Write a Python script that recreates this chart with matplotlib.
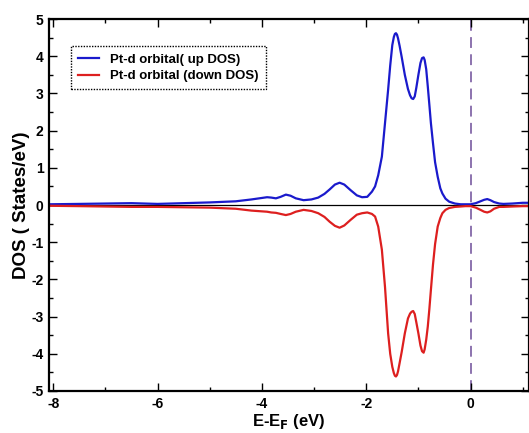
import matplotlib
matplotlib.use("Agg")
import matplotlib.pyplot as plt
from matplotlib.ticker import MultipleLocator

plt.rcParams['font.family'] = ['Liberation Sans', 'DejaVu Sans']
plt.rcParams['axes.unicode_minus'] = False

# Energy grid (eV, relative to the Fermi level) and Pt-d projected DOS
energy = [-8.08, -7.5, -7.0, -6.5, -6.0, -5.5, -5.0, -4.5, -4.2, -4.0, -3.9, -3.82,
          -3.73, -3.64, -3.54, -3.45, -3.35, -3.2, -3.05, -2.92, -2.8, -2.7, -2.6,
          -2.51, -2.42, -2.3, -2.18, -2.08, -1.98, -1.89, -1.83, -1.77, -1.7, -1.64,
          -1.58, -1.54, -1.5, -1.47, -1.45, -1.43, -1.41, -1.39, -1.36, -1.32, -1.26,
          -1.2, -1.16, -1.13, -1.10, -1.07, -1.04, -1.0, -0.96, -0.93, -0.9, -0.88,
          -0.85, -0.82, -0.79, -0.76, -0.72, -0.68, -0.63, -0.58, -0.54, -0.48,
          -0.41, -0.3, -0.19, -0.1, 0.0, 0.1, 0.19, 0.26, 0.32, 0.38, 0.45, 0.55,
          0.63, 0.8, 1.0, 1.12]

dos_up = [0.02, 0.03, 0.04, 0.05, 0.03, 0.05, 0.07, 0.1, 0.15, 0.19, 0.21, 0.2,
          0.18, 0.22, 0.28, 0.25, 0.18, 0.13, 0.15, 0.2, 0.3, 0.42, 0.55,
          0.6, 0.55, 0.4, 0.26, 0.21, 0.22, 0.36, 0.5, 0.8, 1.3, 2.2,
          3.1, 3.75, 4.3, 4.52, 4.6, 4.62, 4.58, 4.48, 4.28, 3.98, 3.5,
          3.12, 2.95, 2.87, 2.85, 2.92, 3.15, 3.5, 3.82, 3.95, 3.97, 3.9,
          3.65, 3.19, 2.7, 2.2, 1.66, 1.15, 0.76, 0.45, 0.31, 0.17,
          0.09, 0.04, 0.02, 0.02, 0.02, 0.05, 0.1, 0.14, 0.16, 0.13, 0.08, 0.04,
          0.03, 0.04, 0.06, 0.06]

dos_down = [-0.02, -0.03, -0.04, -0.05, -0.05, -0.06, -0.07, -0.1, -0.15, -0.17, -0.18, -0.2,
            -0.21, -0.24, -0.27, -0.24, -0.18, -0.13, -0.16, -0.22, -0.32, -0.45, -0.56,
            -0.61, -0.55, -0.4, -0.26, -0.22, -0.2, -0.24, -0.31, -0.58, -1.2, -2.2,
            -3.45, -4.0, -4.35, -4.52, -4.59, -4.61, -4.57, -4.47, -4.25, -3.95, -3.45,
            -3.05, -2.92, -2.87, -2.85, -2.93, -3.15, -3.45, -3.78, -3.93, -3.97, -3.88,
            -3.62, -3.27, -2.8, -2.28, -1.6, -1.05, -0.58, -0.35, -0.22, -0.13,
            -0.08, -0.05, -0.04, -0.03, -0.03, -0.07, -0.13, -0.18, -0.2, -0.17, -0.1, -0.05,
            -0.05, -0.04, -0.03, -0.03]

x_ticks = [-8, -6, -4, -2, 0]
y_ticks = [-5, -4, -3, -2, -1, 0, 1, 2, 3, 4, 5]

fig = plt.figure(figsize=(5.29, 4.33), dpi=100)
ax = fig.add_axes([0.0926, 0.097, 0.9074, 0.859])

ax.plot(energy, dos_up, color='#1a1acc', lw=1.6, label='Pt-d orbital( up DOS)')
ax.plot(energy, dos_down, color='#dd1f1f', lw=1.6, label='Pt-d orbital (down DOS)')
ax.axhline(0, color='black', lw=0.9, zorder=1)
ax.axvline(0, color='#8468a8', lw=1.3, ls=(0, (6, 3.5)), zorder=1)

ax.set_xlim(-8.08, 1.12)
ax.set_ylim(-5, 5)
ax.set_xticks(x_ticks)
ax.set_yticks(y_ticks)
ax.xaxis.set_minor_locator(MultipleLocator(1))
ax.yaxis.set_minor_locator(MultipleLocator(0.5))
ax.tick_params(which='both', direction='in', top=True, right=True, width=1.0)
ax.tick_params(which='major', length=6, labelsize=10, pad=4)
ax.tick_params(which='minor', length=3)
for lab in ax.get_xticklabels() + ax.get_yticklabels():
    lab.set_fontweight('bold')
for sp in ax.spines.values():
    sp.set_linewidth(1.6)

ax.set_xlabel(r'E-E$_\mathbf{F}$ (eV)', fontsize=12, fontweight='bold', labelpad=1)
ax.set_ylabel('DOS ( States/eV)', fontsize=13.5, fontweight='bold', labelpad=1)

leg = ax.legend(loc='upper left', bbox_to_anchor=(0.032, 0.944),
                prop={'weight': 'bold', 'size': 9.5}, fancybox=False, framealpha=1,
                handlelength=1.6, borderpad=0.55, labelspacing=0.3, handletextpad=0.8)
frame = leg.get_frame()
frame.set_edgecolor('black')
frame.set_linestyle((0, (1, 1)))
frame.set_linewidth(1.0)

fig.savefig('out.png', dpi=100)
